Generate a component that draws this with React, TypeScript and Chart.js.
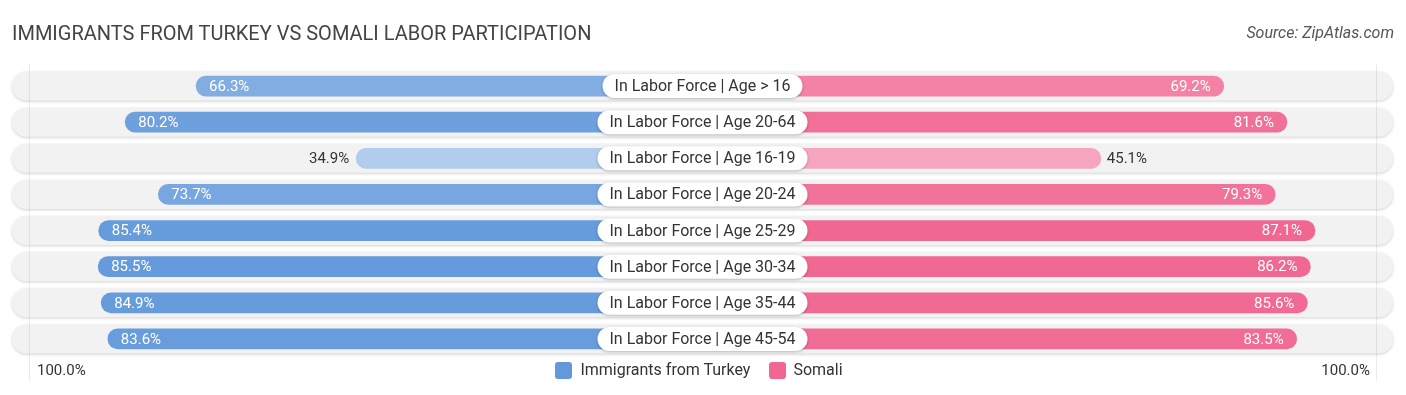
import React, { useEffect, useRef } from "react";
import { Chart, registerables } from "chart.js";

Chart.register(...registerables);

const categories = [
  "In Labor Force | Age > 16",
  "In Labor Force | Age 20-64",
  "In Labor Force | Age 16-19",
  "In Labor Force | Age 20-24",
  "In Labor Force | Age 25-29",
  "In Labor Force | Age 30-34",
  "In Labor Force | Age 35-44",
  "In Labor Force | Age 45-54",
];
const turkey = [66.3, 80.2, 34.9, 73.7, 85.4, 85.5, 84.9, 83.6];
const somali = [69.2, 81.6, 45.1, 79.3, 87.1, 86.2, 85.6, 83.5];
const seriesNames = ["Immigrants from Turkey", "Somali"];
const axisEndLabels = ["100.0%", "100.0%"];

const TITLE = "IMMIGRANTS FROM TURKEY VS SOMALI LABOR PARTICIPATION";
const SOURCE = "Source: ZipAtlas.com";

const OFF = 33; // label gap in value units
const RANGE = 135.4;
const GRID = 132;
const FONT = "Roboto, 'Noto Sans', sans-serif";
const BLUE = [99, 153, 219];
const PINK = [240, 104, 146];

const allVals = [...turkey, ...somali];
const vMin = Math.min(...allVals);
const vMax = Math.max(...allVals);

function shade(base: number[], v: number) {
  const t = (v - vMin) / (vMax - vMin);
  const a = 0.5 + 0.5 * t;
  const c = base.map((b) => Math.round(255 - (255 - b) * a));
  return `rgb(${c[0]},${c[1]},${c[2]})`;
}

const rowsPlugin = {
  id: "rows",
  beforeDatasetsDraw(chart: any) {
    const { ctx, scales } = chart;
    const x = scales.x;
    const y = scales.y;
    const left = x.getPixelForValue(-RANGE);
    const right = x.getPixelForValue(RANGE);
    ctx.save();
    categories.forEach((_, i) => {
      const yc = y.getPixelForValue(i);
      const h = 29;
      ctx.save();
      ctx.shadowColor = "rgba(0,0,0,0.18)";
      ctx.shadowBlur = 3;
      ctx.shadowOffsetY = 1;
      ctx.fillStyle = "#f2f2f2";
      ctx.beginPath();
      ctx.roundRect(left, yc - h / 2, right - left, h, h / 2);
      ctx.fill();
      ctx.restore();
    });
    // faint vertical guide lines
    const top = y.getPixelForValue(0) - 22;
    const bottom = y.getPixelForValue(categories.length - 1) + 42;
    ctx.strokeStyle = "rgba(0,0,0,0.08)";
    ctx.lineWidth = 1;
    [-GRID, GRID].forEach((g) => {
      const gx = Math.round(x.getPixelForValue(g)) + 0.5;
      ctx.beginPath();
      ctx.moveTo(gx, top);
      ctx.lineTo(gx, bottom);
      ctx.stroke();
    });
    ctx.restore();
  },
  afterDatasetsDraw(chart: any) {
    const { ctx, scales } = chart;
    const x = scales.x;
    const y = scales.y;
    const cx = x.getPixelForValue(0);
    ctx.save();
    ctx.textBaseline = "middle";
    categories.forEach((cat, i) => {
      const yc = y.getPixelForValue(i);
      ctx.font = `15px ${FONT}`;
      const tv = turkey[i];
      const lx = x.getPixelForValue(-(tv + OFF));
      const tStr = tv.toFixed(1) + "%";
      if (tv >= 50) {
        ctx.fillStyle = "#ffffff";
        ctx.textAlign = "left";
        ctx.fillText(tStr, lx + 13, yc + 1);
      } else {
        ctx.fillStyle = "#333333";
        ctx.textAlign = "right";
        ctx.fillText(tStr, lx - 7, yc + 1);
      }
      const sv = somali[i];
      const rx = x.getPixelForValue(sv + OFF);
      const sStr = sv.toFixed(1) + "%";
      if (sv >= 50) {
        ctx.fillStyle = "#ffffff";
        ctx.textAlign = "right";
        ctx.fillText(sStr, rx - 13, yc + 1);
      } else {
        ctx.fillStyle = "#333333";
        ctx.textAlign = "left";
        ctx.fillText(sStr, rx + 6, yc + 1);
      }
      ctx.font = `16px ${FONT}`;
      const w = ctx.measureText(cat).width + 24;
      const h = 24;
      ctx.save();
      ctx.shadowColor = "rgba(0,0,0,0.25)";
      ctx.shadowBlur = 3;
      ctx.shadowOffsetY = 1;
      ctx.fillStyle = "#ffffff";
      ctx.beginPath();
      ctx.roundRect(cx - w / 2, yc - h / 2, w, h, h / 2);
      ctx.fill();
      ctx.restore();
      ctx.fillStyle = "#333333";
      ctx.textAlign = "center";
      ctx.fillText(cat, cx, yc + 1);
    });
    ctx.restore();
  },
};

export default function App() {
  const ref = useRef<HTMLCanvasElement | null>(null);
  useEffect(() => {
    if (!ref.current) return;
    const chart = new Chart(ref.current, {
      type: "bar",
      data: {
        labels: categories,
        datasets: [
          {
            label: seriesNames[0],
            data: turkey.map((v) => [-(v + OFF), 0]) as any,
            backgroundColor: turkey.map((v) => shade(BLUE, v)),
            borderRadius: 10,
            borderSkipped: false,
            barThickness: 20,
            grouped: false,
          } as any,
          {
            label: seriesNames[1],
            data: somali.map((v) => [0, v + OFF]) as any,
            backgroundColor: somali.map((v) => shade(PINK, v)),
            borderRadius: 10,
            borderSkipped: false,
            barThickness: 20,
            grouped: false,
          } as any,
        ],
      },
      options: {
        indexAxis: "y",
        animation: false,
        responsive: false,
        maintainAspectRatio: false,
        layout: { padding: { left: 12, right: 13, top: 68, bottom: 38 } },
        scales: {
          x: { display: false, min: -RANGE, max: RANGE },
          y: { display: false },
        },
        plugins: {
          legend: { display: false },
          tooltip: { enabled: false },
          title: { display: false },
        },
      },
      plugins: [rowsPlugin],
    });
    return () => chart.destroy();
  }, []);

  const textStyle: React.CSSProperties = {
    position: "absolute",
    fontFamily: FONT,
    color: "#333",
    whiteSpace: "nowrap",
  };

  return (
    <div
      style={{
        position: "fixed",
        left: 0,
        top: 0,
        width: 1406,
        height: 395,
        background: "#fff",
        overflow: "hidden",
      }}
    >
      <canvas ref={ref} width={1406} height={395} style={{ position: "absolute", left: 0, top: 0 }} />
      <div style={{ ...textStyle, left: 12, top: 20, fontSize: 20, color: "#444", lineHeight: "26px" }}>{TITLE}</div>
      <div
        style={{
          ...textStyle,
          right: 12,
          top: 23,
          fontSize: 16,
          fontStyle: "italic",
          color: "#555",
          lineHeight: "20px",
        }}
      >
        {SOURCE}
      </div>
      <div style={{ ...textStyle, left: 37, top: 360, fontSize: 15, lineHeight: "20px" }}>{axisEndLabels[0]}</div>
      <div style={{ ...textStyle, right: 36, top: 360, fontSize: 15, lineHeight: "20px" }}>{axisEndLabels[1]}</div>
      <div
        style={{
          position: "absolute",
          left: 0,
          width: 1406,
          top: 360,
          display: "flex",
          justifyContent: "center",
          alignItems: "center",
          fontFamily: FONT,
          fontSize: 16,
          color: "#333",
          lineHeight: "20px",
        }}
      >
        <span style={{ width: 17, height: 17, background: `rgb(${BLUE.join(",")})`, borderRadius: 3, marginRight: 8, marginLeft: -8 }} />
        <span style={{ marginRight: 19 }}>{seriesNames[0]}</span>
        <span style={{ width: 17, height: 17, background: `rgb(${PINK.join(",")})`, borderRadius: 3, marginRight: 7 }} />
        <span>{seriesNames[1]}</span>
      </div>
    </div>
  );
}
